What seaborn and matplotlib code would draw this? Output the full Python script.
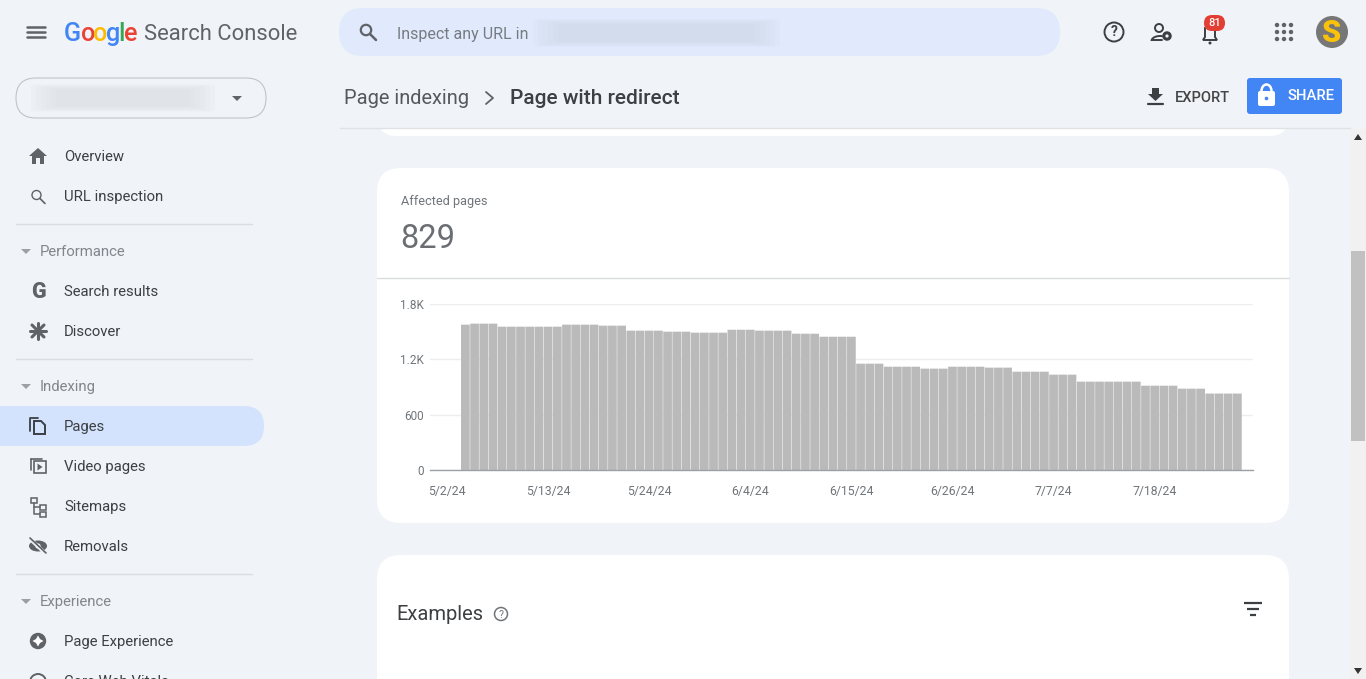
import matplotlib
matplotlib.use("Agg")
import matplotlib.pyplot as plt
import matplotlib.patches as mp
import pandas as pd
import seaborn as sns

# affected pages per day (first two days have no data)
dates = pd.date_range("2024-05-02", "2024-07-27")
pages = ([None, None, 1576, 1587, 1587, 1587]
         + [1554] * 7 + [1576] * 4 + [1565] * 3 + [1511] * 4 + [1500] * 3
         + [1489] * 4 + [1521] * 3 + [1511] * 4 + [1478] * 3 + [1445] * 4
         + [1153] * 3 + [1120] * 4 + [1099] * 3 + [1120] * 4 + [1110] * 3
         + [1066] * 4 + [1034] * 3 + [958] * 7 + [914] * 4 + [882] * 3 + [829] * 4)
x_labels = ["5/2/24", "5/13/24", "5/24/24", "6/4/24", "6/15/24", "6/26/24", "7/7/24", "7/18/24"]
y_ticks = [0, 600, 1200, 1800]
y_labels = ["0", "600", "1.2K", "1.8K"]

nav_items = [("Overview", 156), ("URL inspection", 196), ("Search results", 291), ("Discover", 331),
             ("Pages", 426), ("Video pages", 466), ("Sitemaps", 506), ("Removals", 546),
             ("Page Experience", 641), ("Core Web Vitals", 681)]
nav_heads = [("Performance", 251), ("Indexing", 386), ("Experience", 601)]
nav_rules = [224, 359, 574]

W, H = 1366, 679
BG = "#f0f4f9"
GREY = "#5f6368"
DARK = "#3c4043"

sns.set_theme(style="white")
plt.rcParams["font.family"] = ["Roboto", "DejaVu Sans"]
plt.rcParams["patch.force_edgecolor"] = False

fig = plt.figure(figsize=(W / 100, H / 100), dpi=100, facecolor=BG)

# page furniture, drawn in pixel coordinates
ui = fig.add_axes([0, 0, 1, 1], zorder=0)
ui.set_xlim(0, W)
ui.set_ylim(H, 0)
ui.axis("off")


def rbox(x0, y0, x1, y1, r, fc, ec="none", lw=0, z=1):
    ui.add_patch(mp.FancyBboxPatch((x0 + r, y0 + r), x1 - x0 - 2 * r, y1 - y0 - 2 * r,
                                   boxstyle=f"round,pad={r},rounding_size={r}",
                                   fc=fc, ec=ec, lw=lw, zorder=z))


def txt(x, y, s, size, color=DARK, ha="left", **kw):
    ui.text(x, y, s, fontsize=size, color=color, ha=ha, va="center", zorder=5, **kw)


def blur(x0, x1, yc, h, color, z=3):
    # layered soft boxes for the blurred-out text
    for i in range(6):
        rbox(x0 + i * 5, yc - h / 2 + i, x1 - i * 5, yc + h / 2 - i, 3, color + "22", z=z)


# cards
rbox(377, 100, 1289, 136, 20, "white")
rbox(377, 168, 1289, 523, 24, "white")
rbox(377, 555, 1289, 720, 24, "white")
ui.add_patch(mp.Rectangle((340, 60), 1010, 68, fc=BG, zorder=2))
ui.plot([340, 1350], [128, 128], color="#dfe1e5", lw=1, zorder=3)
ui.plot([377, 1289], [278, 278], color="#dadce0", lw=1, zorder=3)

# scrollbar
ui.add_patch(mp.Rectangle((1350, 129), 16, 550, fc="#f1f1f1", zorder=2))
ui.add_patch(mp.Rectangle((1351, 251), 14, 190, fc="#c1c1c1", zorder=3))
ui.add_patch(mp.Polygon([(1358, 134), (1354, 140), (1362, 140)], fc="#333333", zorder=4))
ui.add_patch(mp.Polygon([(1358, 674), (1354, 668), (1362, 668)], fc="#333333", zorder=4))

# top bar
for y in (27, 32, 37):
    ui.plot([27, 45], [y, y], color=GREY, lw=1.8, zorder=5)
logo_x = 64
for ch, col, w in zip("Google", ["#4285f4", "#ea4335", "#fbbc05", "#4285f4", "#34a853", "#ea4335"],
                      [17, 12.3, 12.3, 12.3, 6, 11]):
    txt(logo_x, 34, ch, 18.2, col, fontweight="medium")
    logo_x += w
txt(144, 34.5, "Search Console", 15.8, GREY)
rbox(339, 8, 1060, 56, 24, "#e0eafc")
ui.add_patch(mp.Circle((366, 30), 5.2, fc="none", ec=GREY, lw=1.6, zorder=5))
ui.plot([370, 376], [34, 40], color=GREY, lw=1.8, zorder=5)
txt(397, 34, "Inspect any URL in", 11.5, "#777c82")
blur(533, 780, 33, 28, "#cdd6e6")

ui.add_patch(mp.Circle((1114, 32), 9.5, fc="none", ec=DARK, lw=1.4, zorder=5))
txt(1114, 32.5, "?", 10, DARK, ha="center", fontweight="bold")
ui.add_patch(mp.Circle((1159, 28), 4, fc="none", ec=DARK, lw=1.4, zorder=5))
ui.add_patch(mp.Arc((1160, 41), 17, 10, theta1=180, theta2=300, ec=DARK, lw=1.4, zorder=5))
ui.plot([1152, 1162], [40, 40], color=DARK, lw=1.4, zorder=5)
ui.add_patch(mp.Circle((1167, 36), 3.2, fc=BG, ec=DARK, lw=2.2, zorder=5))
ui.add_patch(mp.Polygon([(1203, 40), (1205, 37), (1205, 28), (1210, 23), (1215, 28), (1215, 37), (1217, 40)],
                        fc="none", ec=DARK, lw=1.4, zorder=5))
ui.add_patch(mp.Circle((1210, 43), 1.5, fc=DARK, zorder=5))
rbox(1204, 15, 1225, 31, 8, "#e33e33", z=6)
ui.text(1214.5, 23, "81", fontsize=8, color="white", ha="center", va="center", zorder=7, fontweight="medium")
for dx in (1277, 1284, 1291):
    for dy in (25, 32, 39):
        ui.add_patch(mp.Circle((dx, dy), 2.2, fc=GREY, zorder=5))
ui.add_patch(mp.Circle((1332, 32), 16, fc="#777777", zorder=5))
ui.text(1332, 33, "S", fontsize=22, color="#fbc20a", ha="center", va="center", zorder=6, fontweight="black")

# header row
txt(344, 98, "Page indexing", 14.4, "#55595e")
ui.plot([486, 493, 486], [92, 98, 104], color=GREY, lw=1.3, zorder=5)
txt(510, 98, "Page with redirect", 15, "#3c4043", fontweight="medium")
ui.add_patch(mp.Polygon([(1152, 88), (1159, 88), (1159, 94), (1163, 94), (1155.5, 101), (1148, 94), (1152, 94)],
                        fc=DARK, zorder=5))
ui.plot([1148, 1163], [104, 104], color=DARK, lw=1.6, zorder=5)
txt(1175, 97.5, "EXPORT", 10.5, "#444444", fontweight="medium")
rbox(1247, 78, 1342, 114, 3, "#4285f4", z=4)
rbox(1258, 91, 1275, 106, 2, "white", z=5)
ui.add_patch(mp.Arc((1266.5, 91), 10, 13, theta1=180, theta2=360, ec="white", lw=1.8, zorder=5))
ui.add_patch(mp.Circle((1266.5, 98.5), 1.8, fc="#4285f4", zorder=6))
txt(1287, 95.5, "SHARE", 10.6, "white", fontweight="medium")

# sidebar
rbox(16, 78, 266, 118, 20, BG, ec="#c0c3c7", lw=0.8)
blur(31, 215, 98, 27, "#d8dadd")
ui.add_patch(mp.Polygon([(232, 96), (242, 96), (237, 101)], fc=GREY, zorder=5))
rbox(-30, 406, 264, 446, 20, "#d3e3fd", z=2)
for label, y in nav_items:
    txt(64, y + 1, label, 10.7, "#3c4043")
for label, y in nav_heads:
    txt(40, y + 1, label, 10.7, "#80868b")
    ui.add_patch(mp.Polygon([(21, y - 2), (31, y - 2), (26, y + 3)], fc="#9aa0a6", zorder=5))
for y in nav_rules:
    ui.plot([16, 252], [y, y], color="#dadce0", lw=1, zorder=3)

# sidebar icons
ui.add_patch(mp.Polygon([(38, 148), (47, 156), (44, 156), (44, 164), (40, 164), (40, 158), (36, 158), (36, 164),
                         (32, 164), (32, 156), (29, 156)], fc=GREY, zorder=5))
ui.add_patch(mp.Circle((36.5, 195), 4.5, fc="none", ec=GREY, lw=1, zorder=5))
ui.plot([40, 45], [198.5, 203.5], color=GREY, lw=1.2, zorder=5)
ui.text(38, 292, "G", fontsize=15.5, color=GREY, ha="center", va="center", zorder=5, fontweight="black")
for x0, y0, x1, y1 in ((38, 323, 38, 339), (30, 331, 46, 331), (32, 325, 44, 337), (32, 337, 44, 325)):
    ui.plot([x0, x1], [y0, y1], color=GREY, lw=2.2, zorder=5)
ui.plot([30, 30], [419, 431], color=DARK, lw=1.3, zorder=5)
ui.plot([30, 38], [418, 418], color=DARK, lw=1.3, zorder=5)
ui.add_patch(mp.Polygon([(34, 421), (41, 421), (45, 425), (45, 434), (34, 434)], fc="#d3e3fd", ec=DARK, lw=1.4, zorder=6))
ui.add_patch(mp.Rectangle((33.5, 461), 12, 12, fc="none", ec=GREY, lw=1.2, zorder=5))
ui.plot([30.5, 30.5], [459, 470], color=GREY, lw=1.2, zorder=5)
ui.plot([30.5, 42], [458.5, 458.5], color=GREY, lw=1.2, zorder=5)
ui.add_patch(mp.Polygon([(37.5, 463.5), (42.5, 467), (37.5, 470.5)], fc=GREY, zorder=5))
for bx, by, bw in ((30.5, 497.5, 6), (39.5, 504.5, 6), (39.5, 511.5, 6)):
    ui.add_patch(mp.Rectangle((bx, by), bw, 5, fc="none", ec=GREY, lw=1.1, zorder=5))
ui.plot([33.5, 33.5, 39.5], [503, 514, 514], color=GREY, lw=1.1, zorder=5)
ui.plot([33.5, 39.5], [507, 507], color=GREY, lw=1.1, zorder=5)
ui.add_patch(mp.Ellipse((38, 546), 18, 11, fc=GREY, zorder=5))
ui.add_patch(mp.Circle((38, 546), 2.6, fc=BG, zorder=6))
ui.plot([30, 46], [539, 554], color=BG, lw=2.6, zorder=6)
ui.plot([30, 46], [538, 553], color=GREY, lw=1.2, zorder=7)
ui.add_patch(mp.Circle((38, 641), 8.2, fc=GREY, zorder=5))
ui.add_patch(mp.Polygon([(38, 635.5), (40, 639), (43.5, 641), (40, 643), (38, 646.5), (36, 643), (32.5, 641), (36, 639)],
                        fc="white", zorder=6))
ui.add_patch(mp.Arc((38, 682), 16, 16, theta1=180, theta2=360, ec=GREY, lw=1.4, zorder=5))

# card text
txt(401, 201, "Affected pages", 9.2, "#70757a")
txt(400, 238.5, "829", 23.5, "#6a6e73")
txt(396, 614, "Examples", 14.5, "#3c4043")
ui.add_patch(mp.Circle((501, 614), 6.5, fc="none", ec="#70757a", lw=1.1, zorder=5))
txt(501, 614.5, "?", 7.5, "#70757a", ha="center")
for x0, x1, y in ((1244, 1262, 603), (1247, 1259, 609), (1250, 1256, 615)):
    ui.plot([x0, x1], [y, y], color=DARK, lw=1.6, solid_capstyle="butt", zorder=5)

# the chart itself
ax = fig.add_axes([430 / W, 1 - 470 / H, (1253 - 430) / W, (470 - 304) / H], zorder=1)
ax.patch.set_alpha(0)
df = pd.DataFrame({"date": dates.strftime("%m-%d"), "pages": pd.Series(pages, dtype=float)})
sns.barplot(data=df, x="date", y="pages", color="#bababa", saturation=1, width=0.95, linewidth=0, ax=ax)
# pixel snapping makes the gaps between bars uneven
for bar in ax.patches:
    bar.set_snap(False)
ax.set_xlim(-1.85, 87.7)
ax.set_ylim(0, 1800)
ax.set_xlabel("")
ax.set_ylabel("")
ax.set_xticks(range(0, 11 * len(x_labels), 11), x_labels)
ax.set_yticks(y_ticks, y_labels)
ax.tick_params(axis="x", length=0, pad=11, labelsize=8.8, labelcolor="#70757a")
ax.tick_params(axis="y", length=0, pad=4.5, labelsize=8.5, labelcolor="#70757a")
ax.yaxis.grid(True, color="#eeeeee", lw=1)
ax.set_axisbelow(True)
sns.despine(ax=ax, left=True)
ax.spines["bottom"].set_color("#9aa0a6")
ax.spines["bottom"].set_linewidth(1)

fig.savefig("out.png", dpi=100, facecolor=BG)
